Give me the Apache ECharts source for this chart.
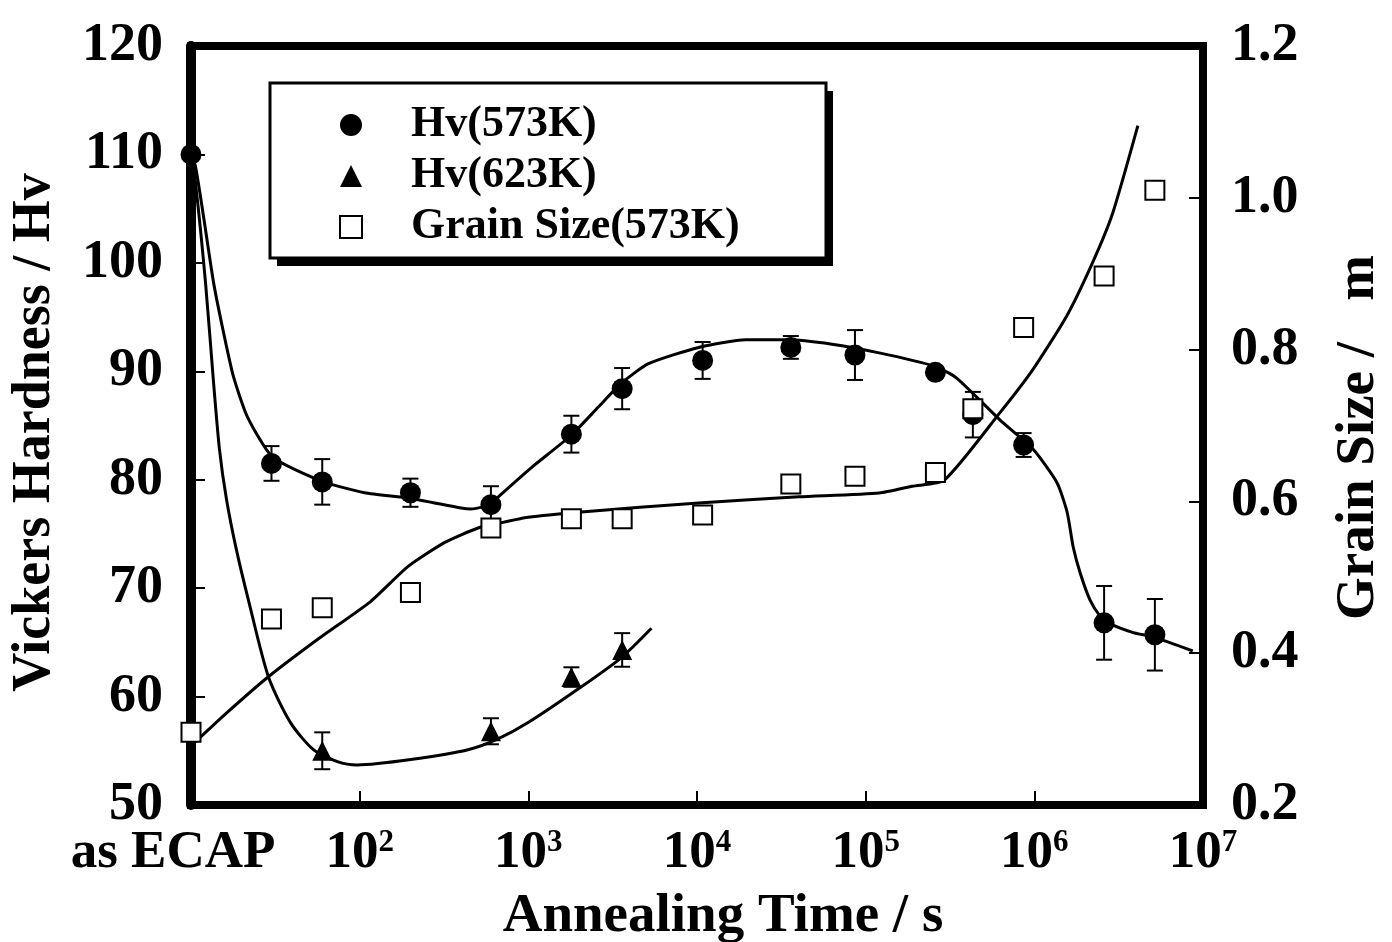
<!DOCTYPE html>
<html>
<head>
<meta charset="utf-8">
<script src="https://cdn.jsdelivr.net/npm/echarts@6/dist/echarts.min.js"></script>
<style>
html, body { margin: 0; padding: 0; background: #fff; }
#main { width: 1392px; height: 942px; }
</style>
</head>
<body>
<div id="main"></div>
<script>
// measured points (annealing time in s, "as ECAP" drawn at 10 s)
var times = [10, 30, 60, 200, 600, 1800, 3600, 10800, 36000, 86400, 259200, 432000, 864000, 2592000, 5184000];
var hv573 = [110, 81.5, 79.8, 78.8, 77.7, 84.2, 88.4, 91.0, 92.2, 91.5, 89.9, 86.0, 83.2, 66.8, 65.7];
var hv573Err = [0, 1.6, 2.1, 1.3, 1.7, 1.7, 1.9, 1.7, 1.05, 2.3, 0.5, 2.1, 1.1, 3.4, 3.3];
var grain573 = [0.296, 0.445, 0.460, 0.480, 0.565, 0.577, 0.577, 0.582, 0.623, 0.633, 0.638, 0.722, 0.829, 0.897, 1.010];

var times623 = [60, 600, 1800, 3600];
var hv623 = [55.0, 56.8, 61.8, 64.3];
var hv623Err = [1.7, 1.2, 0.9, 1.55];

// fitted curves
var fit573T = [10, 10.63, 11.86, 13.6, 15.58, 17.86, 21.6, 30.4, 58.6, 107, 198, 398, 457, 593, 661, 1039, 1796, 2600, 3563, 5155, 10230, 19460, 33650, 63130, 120200, 251800, 344700, 627000, 984000, 1365000, 1565000, 1700000, 1870000, 2140000, 2460000, 2740000, 3860000, 5070000, 8700000];
var fit573V = [110, 108.9, 104.3, 98.2, 93.6, 89.5, 85.8, 82.1, 79.9, 78.8, 78.3, 77.4, 77.3, 77.7, 78.4, 81.1, 84.1, 86.7, 88.9, 90.7, 92.2, 92.9, 92.9, 92.5, 91.7, 90.5, 89.4, 85.5, 82.8, 79.7, 77.0, 73.8, 71.4, 68.9, 67.4, 66.8, 65.9, 65.5, 64.2];

var fit623T = [10, 10.63, 12.19, 13.6, 14.75, 16.23, 18.61, 21.9, 28.8, 38.9, 53.2, 73.8, 97, 201, 439, 661, 997, 2061, 3563, 5370];
var fit623V = [110, 107.4, 98.2, 89.0, 82.8, 78.2, 73.5, 68.9, 61.8, 57.6, 55.1, 54.0, 53.7, 54.2, 55.1, 56.1, 57.6, 60.9, 63.6, 66.3];

var fitGrainT = [10.6, 16.4, 28.4, 56.2, 116, 193, 320, 503, 661, 997, 2061, 10230, 40180, 120200, 188800, 292500, 620700, 975000, 1553000, 2218000, 2917000, 4110000];
var fitGrainV = [0.283, 0.322, 0.368, 0.418, 0.468, 0.514, 0.546, 0.565, 0.571, 0.579, 0.586, 0.598, 0.606, 0.611, 0.620, 0.628, 0.716, 0.773, 0.844, 0.915, 0.980, 1.095];

var leftTitle = 'Vickers Hardness / Hv';
var rightTitle = 'Grain Size /   m';
var xTitle = 'Annealing Time / s';

var FONT = '"Liberation Serif", "Times New Roman", serif';

function pairs(xs, ys) {
	return xs.map(function (x, i) { return [x, ys[i]]; });
}

function errData(xs, ys, es) {
	var out = [];
	for (var i = 0; i < xs.length; i++) {
		if (es[i] > 0) out.push([xs[i], ys[i] - es[i], ys[i] + es[i]]);
	}
	return out;
}

function errorBar(params, api) {
	var x = api.value(0);
	var lo = api.coord([x, api.value(1)]);
	var hi = api.coord([x, api.value(2)]);
	var w = 8;
	var st = { stroke: '#000', lineWidth: 2 };
	return {
		type: 'group',
		children: [
			{ type: 'line', shape: { x1: lo[0], y1: lo[1], x2: hi[0], y2: hi[1] }, style: st },
			{ type: 'line', shape: { x1: lo[0] - w, y1: lo[1], x2: lo[0] + w, y2: lo[1] }, style: st },
			{ type: 'line', shape: { x1: hi[0] - w, y1: hi[1], x2: hi[0] + w, y2: hi[1] }, style: st }
		]
	};
}

function fitLine(data, yIdx, sm) {
	return {
		type: 'line',
		yAxisIndex: yIdx,
		data: data,
		smooth: sm,
		showSymbol: false,
		silent: true,
		clip: false,
		lineStyle: { color: '#000', width: 3 },
		z: 2
	};
}

var myChart = echarts.init(document.getElementById('main'));

var option = {
	backgroundColor: '#fff',
	animation: false,
	textStyle: { fontFamily: FONT },
	grid: {
		left: 191, right: 189, top: 46, bottom: 137,
		outerBoundsMode: 'none',
		containLabel: false,
		show: true, borderColor: '#000', borderWidth: 8
	},
	graphic: [
		{ type: 'rect', shape: { x: 277, y: 91, width: 556, height: 175 }, style: { fill: '#000' }, z: 10 },
		{ type: 'rect', shape: { x: 270, y: 83, width: 556, height: 175 }, style: { fill: '#fff', stroke: '#000', lineWidth: 3 }, z: 11 }
	],
	legend: {
		orient: 'vertical',
		left: 334,
		top: 98,
		itemGap: 7,
		itemWidth: 22,
		itemHeight: 22,
		selectedMode: false,
		z: 12,
		textStyle: { fontFamily: FONT, fontWeight: 'bold', fontSize: 44, color: '#000', padding: [0, 0, 0, 44] },
		data: [
			{ name: 'Hv(573K)', icon: 'circle' },
			{ name: 'Hv(623K)', icon: 'triangle' },
			{ name: 'Grain Size(573K)', icon: 'rect' }
		]
	},
	xAxis: {
		type: 'log',
		logBase: 10,
		min: 10,
		max: 10000000,
		name: xTitle,
		nameLocation: 'middle',
		nameGap: 84,
		nameTextStyle: { fontFamily: FONT, fontWeight: 'bold', fontSize: 55, color: '#000', padding: [0, 0, 0, 52] },
		axisLine: { show: false },
		axisTick: { inside: true, length: 14, lineStyle: { color: '#000', width: 2 } },
		splitLine: { show: false },
		axisLabel: {
			margin: 22,
			color: '#000',
			formatter: function (v) {
				if (v <= 10) return '{a|as ECAP}';
				return '{b|10}{s|' + Math.round(Math.log10(v)) + '}';
			},
			rich: {
				a: { fontFamily: FONT, fontWeight: 'bold', fontSize: 53, color: '#000', padding: [0, 36, 0, 0] },
				b: { fontFamily: FONT, fontWeight: 'bold', fontSize: 53, color: '#000' },
				s: { fontFamily: FONT, fontWeight: 'bold', fontSize: 31, color: '#000', verticalAlign: 'top' }
			}
		}
	},
	yAxis: [
		{
			type: 'value',
			min: 50,
			max: 120,
			interval: 10,
			name: leftTitle,
			nameLocation: 'middle',
			nameGap: 129,
			nameTextStyle: { fontFamily: FONT, fontWeight: 'bold', fontSize: 54, color: '#000', padding: [0, 14, 0, 0] },
			axisLine: { show: true, lineStyle: { color: '#000', width: 10 } },
			axisTick: { inside: true, length: 14, lineStyle: { color: '#000', width: 2 } },
			splitLine: { show: false },
			axisLabel: { margin: 28, fontFamily: FONT, fontWeight: 'bold', fontSize: 54, color: '#000', padding: [0, 0, 14, 0] }
		},
		{
			type: 'value',
			position: 'right',
			min: 0.2,
			max: 1.2,
			interval: 0.2,
			name: rightTitle,
			nameLocation: 'middle',
			nameRotate: 90,
			nameGap: 128,
			nameTextStyle: { fontFamily: FONT, fontWeight: 'bold', fontSize: 55, color: '#000', padding: [0, 24, 0, 0] },
			axisLine: { show: false },
			axisTick: { inside: true, length: 14, lineStyle: { color: '#000', width: 2 } },
			splitLine: { show: false },
			axisLabel: {
				margin: 28, fontFamily: FONT, fontWeight: 'bold', fontSize: 54, color: '#000', padding: [0, 0, 10, 0],
				formatter: function (v) { return v.toFixed(1); }
			}
		}
	],
	series: [
		fitLine(pairs(fit573T, fit573V), 0, 0.2),
		fitLine(pairs(fit623T, fit623V), 0, 0.25),
		fitLine(pairs(fitGrainT, fitGrainV), 1, 0.2),
		{
			type: 'custom',
			yAxisIndex: 0,
			renderItem: errorBar,
			encode: { x: 0, y: [1, 2] },
			data: errData(times, hv573, hv573Err),
			silent: true,
			clip: false,
			z: 3
		},
		{
			type: 'custom',
			yAxisIndex: 0,
			renderItem: errorBar,
			encode: { x: 0, y: [1, 2] },
			data: errData(times623, hv623, hv623Err),
			silent: true,
			clip: false,
			z: 3
		},
		{
			name: 'Hv(573K)',
			type: 'scatter',
			yAxisIndex: 0,
			symbol: 'circle',
			symbolSize: 21,
			clip: false,
			itemStyle: { color: '#000', opacity: 1 },
			data: pairs(times, hv573),
			z: 4
		},
		{
			name: 'Hv(623K)',
			type: 'scatter',
			yAxisIndex: 0,
			symbol: 'triangle',
			symbolSize: 20,
			clip: false,
			itemStyle: { color: '#000', opacity: 1 },
			data: pairs(times623, hv623),
			z: 4
		},
		{
			name: 'Grain Size(573K)',
			type: 'scatter',
			yAxisIndex: 1,
			symbol: 'rect',
			symbolSize: 19,
			clip: false,
			itemStyle: { color: '#fff', borderColor: '#000', borderWidth: 2, opacity: 1 },
			data: pairs(times, grain573),
			z: 5
		}
	]
};

myChart.setOption(option);
</script>
</body>
</html>
